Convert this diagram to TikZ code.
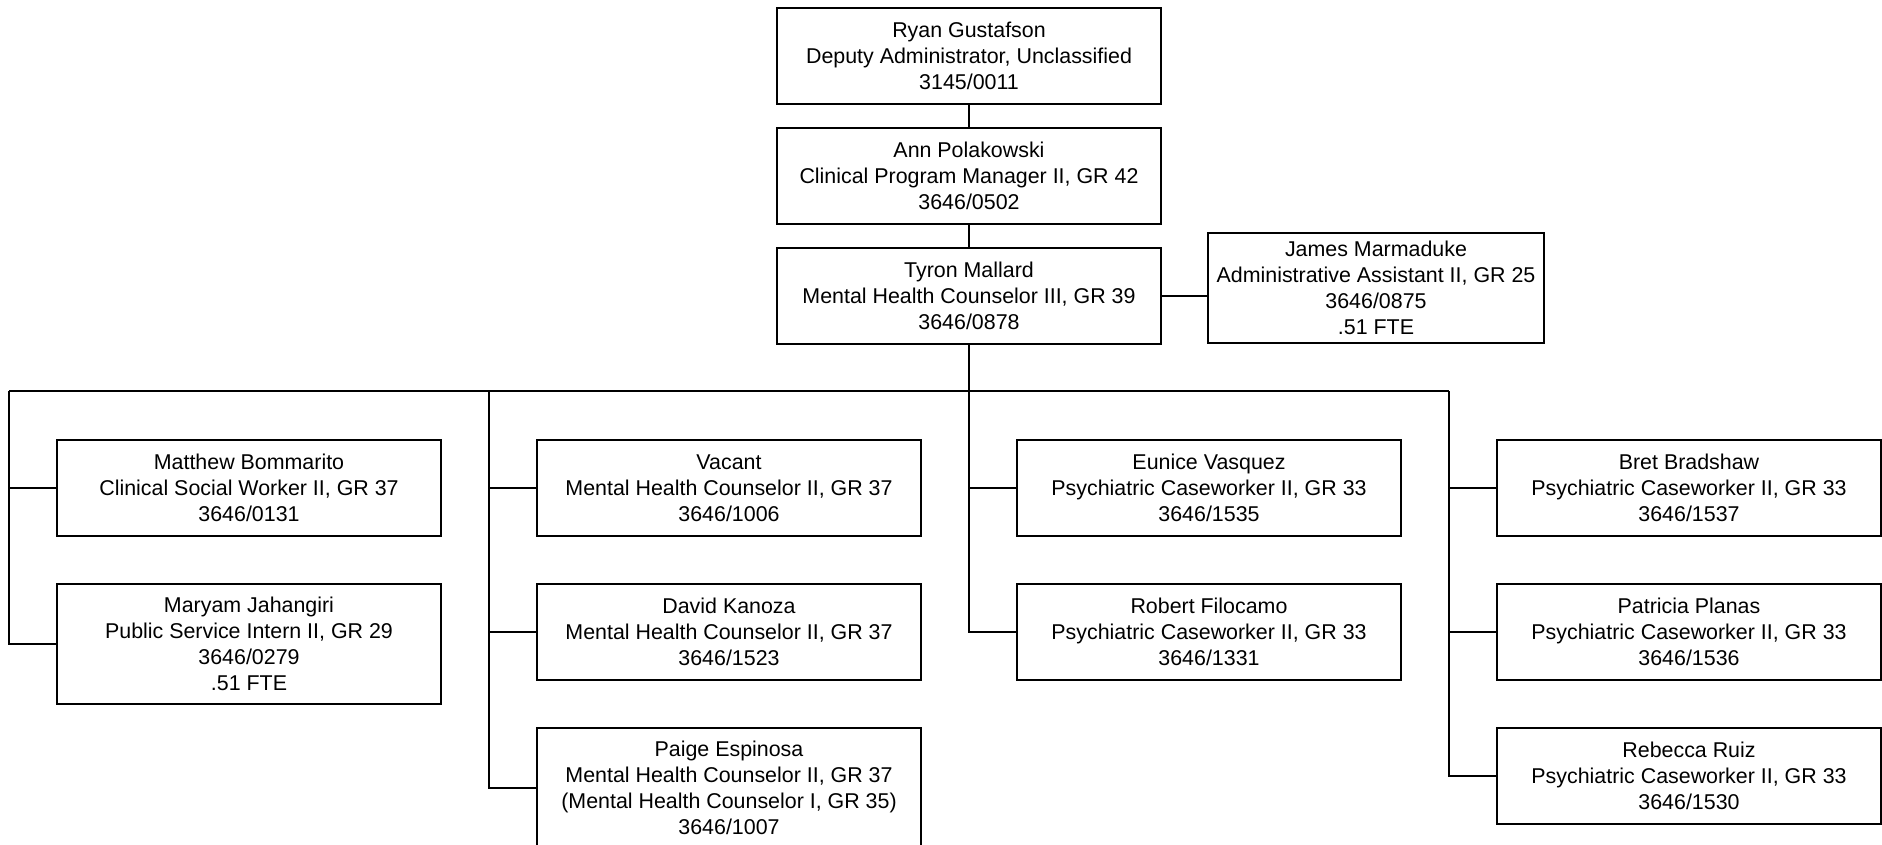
\documentclass[tikz,border=0pt]{standalone}
\usepackage{fontspec}
\setmainfont{Liberation Sans}
\begin{document}
\begin{tikzpicture}[x=1pt,y=-1pt,
  every node/.style={font=\fontsize{21.4}{25.8}\selectfont},
  posbox/.style={draw=black,line width=1.8pt,fill=white,rectangle,align=center,inner sep=0pt,minimum width=384pt,minimum height=96pt},
  conn/.style={draw=black,line width=1.8pt}]
\useasboundingbox[fill=white] (0,0) rectangle (1882,845);
% chain
\node[posbox] (ryan) at (969,56) {Ryan Gustafson\\Deputy Administrator, Unclassified\\3145/0011};
\node[posbox] (ann) at (969,176) {Ann Polakowski\\Clinical Program Manager II, GR 42\\3646/0502};
\node[posbox] (tyron) at (969,296) {Tyron Mallard\\Mental Health Counselor III, GR 39\\3646/0878};
\node[posbox,minimum width=336pt,minimum height=110pt] (james) at (1376,288) {James Marmaduke\\Administrative Assistant II, GR 25\\3646/0875\\.51 FTE};
% column 1
\node[posbox] (matthew) at (249,488) {Matthew Bommarito\\Clinical Social Worker II, GR 37\\3646/0131};
\node[posbox,minimum height=120pt] (maryam) at (249,644) {Maryam Jahangiri\\Public Service Intern II, GR 29\\3646/0279\\.51 FTE};
% column 2
\node[posbox] (vacant) at (729,488) {Vacant\\Mental Health Counselor II, GR 37\\3646/1006};
\node[posbox] (david) at (729,632) {David Kanoza\\Mental Health Counselor II, GR 37\\3646/1523};
\node[posbox,minimum height=120pt] (paige) at (729,788) {Paige Espinosa\\Mental Health Counselor II, GR 37\\(Mental Health Counselor I, GR 35)\\3646/1007};
% column 3
\node[posbox] (eunice) at (1209,488) {Eunice Vasquez\\Psychiatric Caseworker II, GR 33\\3646/1535};
\node[posbox] (robert) at (1209,632) {Robert Filocamo\\Psychiatric Caseworker II, GR 33\\3646/1331};
% column 4
\node[posbox] (bret) at (1689,488) {Bret Bradshaw\\Psychiatric Caseworker II, GR 33\\3646/1537};
\node[posbox] (patricia) at (1689,632) {Patricia Planas\\Psychiatric Caseworker II, GR 33\\3646/1536};
\node[posbox] (rebecca) at (1689,776) {Rebecca Ruiz\\Psychiatric Caseworker II, GR 33\\3646/1530};
% bus coordinates
\coordinate (b1) at (9,391);
\coordinate (b2) at (489,391);
\coordinate (b3) at (969,391);
\coordinate (b4) at (1449,391);
% connectors
\path[conn] (ryan) -- (ann);
\path[conn] (ann) -- (tyron);
\path[conn] (tyron.east) -- (tyron.east -| james.west);
\path[conn] (tyron.south) -- (b3);
\path[conn] (b1) -- (b4);
\path[conn] (b1) |- (matthew.west);
\path[conn] (b1) |- (maryam.west);
\path[conn] (b2) |- (vacant.west);
\path[conn] (b2) |- (david.west);
\path[conn] (b2) |- (paige.west);
\path[conn] (b3) |- (eunice.west);
\path[conn] (b3) |- (robert.west);
\path[conn] (b4) |- (bret.west);
\path[conn] (b4) |- (patricia.west);
\path[conn] (b4) |- (rebecca.west);
\end{tikzpicture}
\end{document}
